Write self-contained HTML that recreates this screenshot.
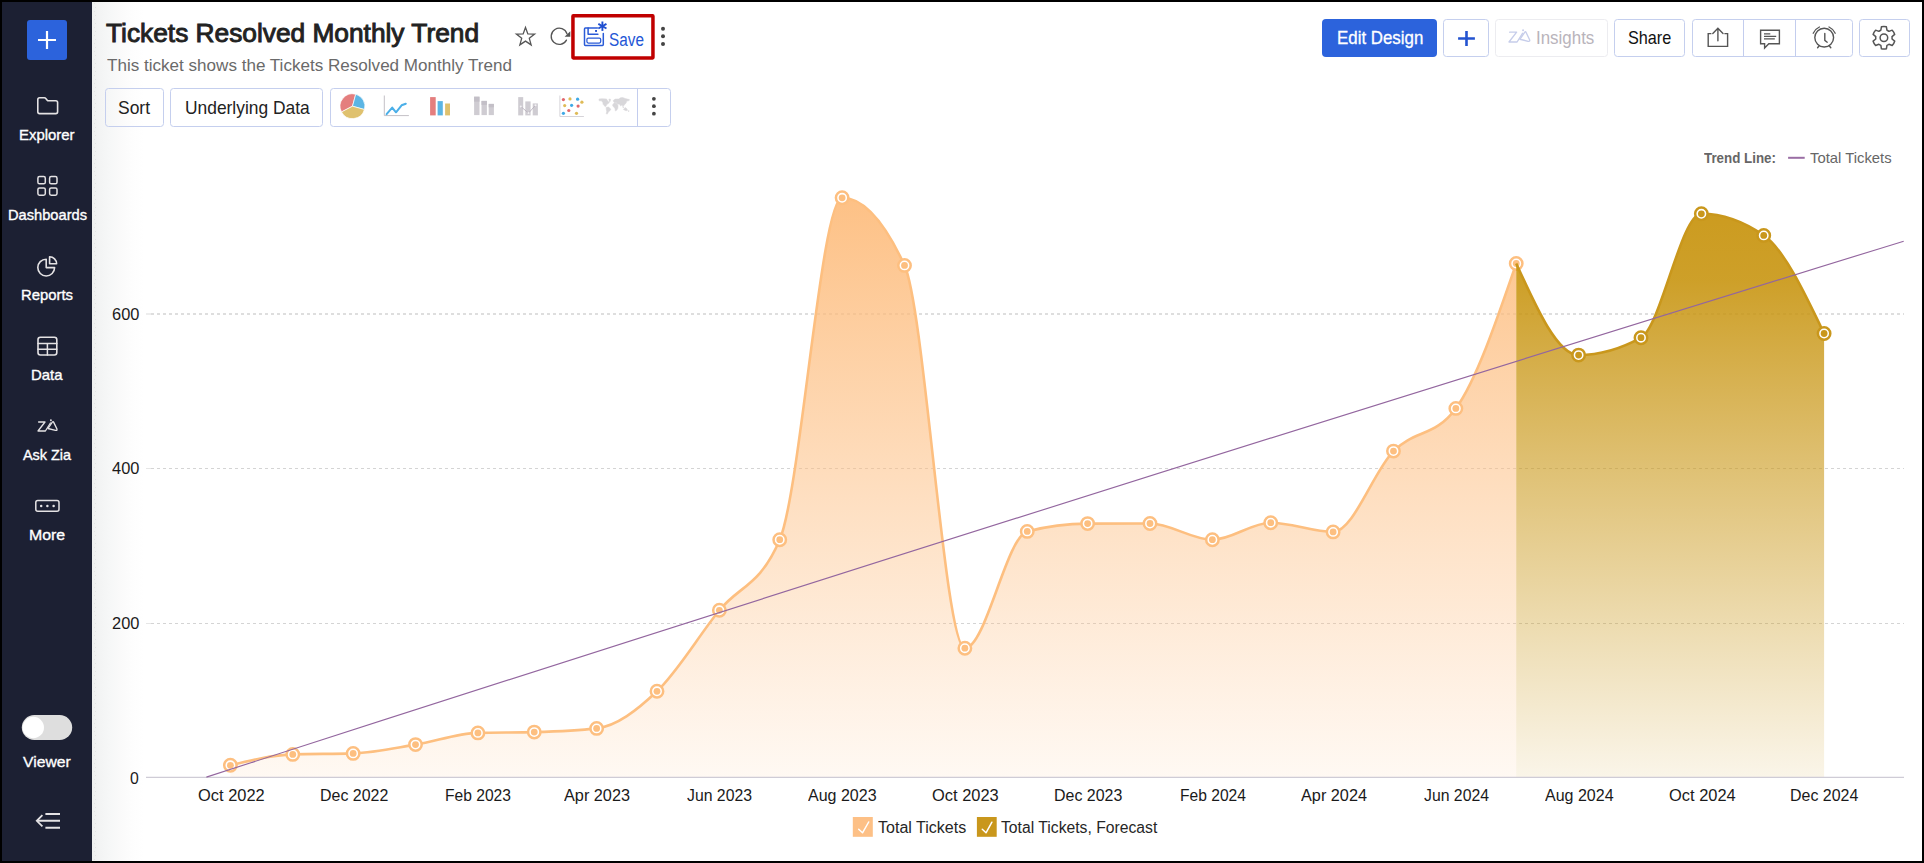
<!DOCTYPE html>
<html lang="en"><head><meta charset="utf-8"><title>Tickets Resolved Monthly Trend</title><style>
*{box-sizing:border-box;margin:0;padding:0}
html,body{width:1924px;height:863px;overflow:hidden;background:#fff}
body{font-family:"Liberation Sans", sans-serif;position:relative}
.abs{position:absolute}
.t{position:absolute;white-space:nowrap;line-height:1;transform-origin:0 50%;display:inline-block}
.frame{position:absolute;left:0;top:0;width:1924px;height:863px;border:2px solid #000;z-index:50;pointer-events:none}
.side{position:absolute;left:2px;top:2px;width:90px;height:859px;background:#1c2033}
.shade{position:absolute;left:92px;top:2px;width:52px;height:859px;background:linear-gradient(90deg,#eef0ef 0,#f3f4f4 16%,#f6f7f7 32%,#fafafa 54%,#fdfdfd 75%,#fff 100%)}
.btn{position:absolute;border:1px solid #c5cfee;border-radius:3.5px}
</style></head>
<body>
<div class="shade"></div>
<div class="side"></div>
<svg class="abs" style="left:92px;top:2px" width="6" height="859"><defs><pattern id="zz" width="6" height="8" patternUnits="userSpaceOnUse"><rect x="2" y="1" width="1" height="1" fill="#e3e4e4"/><rect x="3" y="5" width="1" height="1" fill="#e3e4e4"/></pattern></defs><rect width="6" height="859" fill="url(#zz)"/></svg>
<svg class="abs" style="left:0;top:0" width="1924" height="863" viewBox="0 0 1924 863">
<defs><linearGradient id="ga" gradientUnits="userSpaceOnUse" x1="0" y1="197" x2="0" y2="777"><stop offset="0" stop-color="#fdba78" stop-opacity="0.9"/><stop offset="1" stop-color="#fdc086" stop-opacity="0.10"/></linearGradient><linearGradient id="gf" gradientUnits="userSpaceOnUse" x1="0" y1="213" x2="0" y2="777"><stop offset="0" stop-color="#c8940f" stop-opacity="0.93"/><stop offset="0.12" stop-color="#c89511" stop-opacity="0.9"/><stop offset="1" stop-color="#cc9a1e" stop-opacity="0.10"/></linearGradient></defs>
<line x1="151" x2="1904" y1="314.0" y2="314.0" stroke="#d4d4d4" stroke-width="1.4" stroke-dasharray="3 3"/>
<line x1="146" x2="151" y1="314.0" y2="314.0" stroke="#e6e6e6" stroke-width="1.4"/>
<line x1="151" x2="1904" y1="468.5" y2="468.5" stroke="#d4d4d4" stroke-width="1" stroke-dasharray="3 3"/>
<line x1="146" x2="151" y1="468.5" y2="468.5" stroke="#e6e6e6" stroke-width="1"/>
<line x1="151" x2="1904" y1="623.5" y2="623.5" stroke="#d4d4d4" stroke-width="1" stroke-dasharray="3 3"/>
<line x1="146" x2="151" y1="623.5" y2="623.5" stroke="#e6e6e6" stroke-width="1"/>
<path d="M230.40,765.30C251.19,760.19 271.99,755.09 292.78,754.40C312.90,753.73 333.02,754.07 353.15,753.40C373.94,752.71 394.73,748.02 415.53,744.60C436.32,741.18 457.11,733.49 477.91,732.90C496.69,732.37 515.47,732.63 534.25,732.10C555.04,731.51 575.84,730.87 596.63,728.40C616.75,726.01 636.87,710.44 657.00,691.30C677.79,671.53 698.58,635.94 719.38,610.30C739.50,585.49 759.62,586.77 779.74,539.70C800.54,491.06 821.33,197.80 842.12,197.80C862.92,197.80 883.71,220.33 904.50,265.40C924.63,309.01 944.75,648.20 964.87,648.20C985.66,648.20 1006.46,536.77 1027.25,531.40C1047.37,526.20 1067.49,523.66 1087.62,523.60C1108.41,523.53 1129.20,523.50 1150.00,523.50C1170.79,523.50 1191.58,539.70 1212.38,539.70C1231.83,539.70 1251.28,522.70 1270.73,522.70C1291.53,522.70 1312.32,531.90 1333.11,531.90C1353.23,531.90 1373.36,471.56 1393.48,451.10C1414.27,429.96 1435.07,436.87 1455.86,408.40C1475.98,380.85 1496.10,322.18 1516.23,263.50L1516.23,777.3L230.40,777.3Z" fill="url(#ga)"/>
<path d="M230.40,765.30C251.19,760.19 271.99,755.09 292.78,754.40C312.90,753.73 333.02,754.07 353.15,753.40C373.94,752.71 394.73,748.02 415.53,744.60C436.32,741.18 457.11,733.49 477.91,732.90C496.69,732.37 515.47,732.63 534.25,732.10C555.04,731.51 575.84,730.87 596.63,728.40C616.75,726.01 636.87,710.44 657.00,691.30C677.79,671.53 698.58,635.94 719.38,610.30C739.50,585.49 759.62,586.77 779.74,539.70C800.54,491.06 821.33,197.80 842.12,197.80C862.92,197.80 883.71,220.33 904.50,265.40C924.63,309.01 944.75,648.20 964.87,648.20C985.66,648.20 1006.46,536.77 1027.25,531.40C1047.37,526.20 1067.49,523.66 1087.62,523.60C1108.41,523.53 1129.20,523.50 1150.00,523.50C1170.79,523.50 1191.58,539.70 1212.38,539.70C1231.83,539.70 1251.28,522.70 1270.73,522.70C1291.53,522.70 1312.32,531.90 1333.11,531.90C1353.23,531.90 1373.36,471.56 1393.48,451.10C1414.27,429.96 1435.07,436.87 1455.86,408.40C1475.98,380.85 1496.10,322.18 1516.23,263.50" fill="none" stroke="#fdbf80" stroke-width="2.6" stroke-linejoin="round"/>
<circle cx="230.40" cy="765.30" r="6.2" fill="#fff" stroke="#fdbf80" stroke-width="2.5"/><circle cx="230.40" cy="765.30" r="3.4" fill="#fdbf80"/>
<circle cx="292.78" cy="754.40" r="6.2" fill="#fff" stroke="#fdbf80" stroke-width="2.5"/><circle cx="292.78" cy="754.40" r="3.4" fill="#fdbf80"/>
<circle cx="353.15" cy="753.40" r="6.2" fill="#fff" stroke="#fdbf80" stroke-width="2.5"/><circle cx="353.15" cy="753.40" r="3.4" fill="#fdbf80"/>
<circle cx="415.53" cy="744.60" r="6.2" fill="#fff" stroke="#fdbf80" stroke-width="2.5"/><circle cx="415.53" cy="744.60" r="3.4" fill="#fdbf80"/>
<circle cx="477.91" cy="732.90" r="6.2" fill="#fff" stroke="#fdbf80" stroke-width="2.5"/><circle cx="477.91" cy="732.90" r="3.4" fill="#fdbf80"/>
<circle cx="534.25" cy="732.10" r="6.2" fill="#fff" stroke="#fdbf80" stroke-width="2.5"/><circle cx="534.25" cy="732.10" r="3.4" fill="#fdbf80"/>
<circle cx="596.63" cy="728.40" r="6.2" fill="#fff" stroke="#fdbf80" stroke-width="2.5"/><circle cx="596.63" cy="728.40" r="3.4" fill="#fdbf80"/>
<circle cx="657.00" cy="691.30" r="6.2" fill="#fff" stroke="#fdbf80" stroke-width="2.5"/><circle cx="657.00" cy="691.30" r="3.4" fill="#fdbf80"/>
<circle cx="719.38" cy="610.30" r="6.2" fill="#fff" stroke="#fdbf80" stroke-width="2.5"/><circle cx="719.38" cy="610.30" r="3.4" fill="#fdbf80"/>
<circle cx="779.74" cy="539.70" r="6.2" fill="#fff" stroke="#fdbf80" stroke-width="2.5"/><circle cx="779.74" cy="539.70" r="3.4" fill="#fdbf80"/>
<circle cx="842.12" cy="197.80" r="6.2" fill="#fff" stroke="#fdbf80" stroke-width="2.5"/><circle cx="842.12" cy="197.80" r="3.4" fill="#fdbf80"/>
<circle cx="904.50" cy="265.40" r="6.2" fill="#fff" stroke="#fdbf80" stroke-width="2.5"/><circle cx="904.50" cy="265.40" r="3.4" fill="#fdbf80"/>
<circle cx="964.87" cy="648.20" r="6.2" fill="#fff" stroke="#fdbf80" stroke-width="2.5"/><circle cx="964.87" cy="648.20" r="3.4" fill="#fdbf80"/>
<circle cx="1027.25" cy="531.40" r="6.2" fill="#fff" stroke="#fdbf80" stroke-width="2.5"/><circle cx="1027.25" cy="531.40" r="3.4" fill="#fdbf80"/>
<circle cx="1087.62" cy="523.60" r="6.2" fill="#fff" stroke="#fdbf80" stroke-width="2.5"/><circle cx="1087.62" cy="523.60" r="3.4" fill="#fdbf80"/>
<circle cx="1150.00" cy="523.50" r="6.2" fill="#fff" stroke="#fdbf80" stroke-width="2.5"/><circle cx="1150.00" cy="523.50" r="3.4" fill="#fdbf80"/>
<circle cx="1212.38" cy="539.70" r="6.2" fill="#fff" stroke="#fdbf80" stroke-width="2.5"/><circle cx="1212.38" cy="539.70" r="3.4" fill="#fdbf80"/>
<circle cx="1270.73" cy="522.70" r="6.2" fill="#fff" stroke="#fdbf80" stroke-width="2.5"/><circle cx="1270.73" cy="522.70" r="3.4" fill="#fdbf80"/>
<circle cx="1333.11" cy="531.90" r="6.2" fill="#fff" stroke="#fdbf80" stroke-width="2.5"/><circle cx="1333.11" cy="531.90" r="3.4" fill="#fdbf80"/>
<circle cx="1393.48" cy="451.10" r="6.2" fill="#fff" stroke="#fdbf80" stroke-width="2.5"/><circle cx="1393.48" cy="451.10" r="3.4" fill="#fdbf80"/>
<circle cx="1455.86" cy="408.40" r="6.2" fill="#fff" stroke="#fdbf80" stroke-width="2.5"/><circle cx="1455.86" cy="408.40" r="3.4" fill="#fdbf80"/>
<circle cx="1516.23" cy="263.50" r="6.2" fill="#fff" stroke="#fdbf80" stroke-width="2.5"/><circle cx="1516.23" cy="263.50" r="3.4" fill="#fdbf80"/>
<path d="M1516.23,263.50C1537.02,309.30 1557.81,355.10 1578.61,355.10C1599.40,355.10 1620.19,349.30 1640.99,337.70C1661.11,326.47 1681.23,213.80 1701.35,213.80C1722.15,213.80 1742.94,221.00 1763.73,235.40C1783.86,249.34 1803.98,291.42 1824.10,333.50L1824.10,777.3L1516.23,777.3Z" fill="url(#gf)"/>
<path d="M1516.23,263.50C1537.02,309.30 1557.81,355.10 1578.61,355.10C1599.40,355.10 1620.19,349.30 1640.99,337.70C1661.11,326.47 1681.23,213.80 1701.35,213.80C1722.15,213.80 1742.94,221.00 1763.73,235.40C1783.86,249.34 1803.98,291.42 1824.10,333.50" fill="none" stroke="#c9971c" stroke-width="2.6" stroke-linejoin="round"/>
<line x1="146" x2="1904" y1="777.3" y2="777.3" stroke="#cfccd6" stroke-width="1.3"/>
<circle cx="1578.61" cy="355.10" r="6.2" fill="#fff" stroke="#c9971c" stroke-width="2.5"/><circle cx="1578.61" cy="355.10" r="3.4" fill="#c9971c"/>
<circle cx="1640.99" cy="337.70" r="6.2" fill="#fff" stroke="#c9971c" stroke-width="2.5"/><circle cx="1640.99" cy="337.70" r="3.4" fill="#c9971c"/>
<circle cx="1701.35" cy="213.80" r="6.2" fill="#fff" stroke="#c9971c" stroke-width="2.5"/><circle cx="1701.35" cy="213.80" r="3.4" fill="#c9971c"/>
<circle cx="1763.73" cy="235.40" r="6.2" fill="#fff" stroke="#c9971c" stroke-width="2.5"/><circle cx="1763.73" cy="235.40" r="3.4" fill="#c9971c"/>
<circle cx="1824.10" cy="333.50" r="6.2" fill="#fff" stroke="#c9971c" stroke-width="2.5"/><circle cx="1824.10" cy="333.50" r="3.4" fill="#c9971c"/>
<path d="M206.4 777.1Q1055 502.9 1903.7 241.2" fill="none" stroke="#93669f" stroke-width="1.15"/>
</svg>
<svg class="abs" style="left:0;top:0" width="96" height="863" viewBox="0 0 96 863" fill="none" stroke-linecap="round" stroke-linejoin="round">
<rect x="27" y="20" width="40" height="40" rx="3" fill="#2c63dc"/>
<path d="M38 40H56M47 31V49" stroke="#fff" stroke-width="2.2" stroke-linecap="butt"/>
<path d="M37.8 99.6Q37.8 97.8 39.6 97.8H44.2Q45.3 97.8 46 98.7L47.2 100.2Q47.7 100.8 48.6 100.8H55.8Q57.6 100.8 57.6 102.6V111.8Q57.6 113.6 55.8 113.6H39.6Q37.8 113.6 37.8 111.8Z" stroke="#e4e2e4" stroke-width="1.6"/>
<rect x="37.9" y="176.6" width="7.4" height="7.2" rx="1.6" stroke="#e4e2e4" stroke-width="1.5"/>
<rect x="49.6" y="176.6" width="7.4" height="7.2" rx="1.6" stroke="#e4e2e4" stroke-width="1.5"/>
<rect x="37.9" y="188.0" width="7.4" height="7.2" rx="1.6" stroke="#e4e2e4" stroke-width="1.5"/>
<rect x="49.6" y="188.0" width="7.4" height="7.2" rx="1.6" stroke="#e4e2e4" stroke-width="1.5"/>
<path d="M46.2 259.2A8.4 8.4 0 1 0 54.6 267.6H46.2Z" stroke="#e4e2e4" stroke-width="1.6"/>
<path d="M49.6 256.8A7 7 0 0 1 56.6 263.8H49.6Z" stroke="#e4e2e4" stroke-width="1.6"/>
<rect x="38" y="337.2" width="18.8" height="17.8" rx="2.4" stroke="#e4e2e4" stroke-width="1.6"/>
<path d="M38 343.4H56.8M38 349.3H56.8M47.4 343.4V355" stroke="#e4e2e4" stroke-width="1.5"/>
<path d="M38.6 422H45L38 431H45.4L50.4 423" stroke="#e4e2e4" stroke-width="1.3"/>
<circle cx="50.9" cy="420.3" r="0.95" fill="#e4e2e4"/>
<path d="M48 428.5L52.5 421.9Q53.1 421.2 53.6 422.1L56.9 428.9Q57.5 430.8 55.5 430.4L48 428.5" stroke="#e4e2e4" stroke-width="1.3"/>
<rect x="35.8" y="500.6" width="23.2" height="10.6" rx="2" stroke="#e4e2e4" stroke-width="1.5"/>
<circle cx="41.2" cy="505.9" r="1.25" fill="#e4e2e4"/>
<circle cx="47.4" cy="505.9" r="1.25" fill="#e4e2e4"/>
<circle cx="53.6" cy="505.9" r="1.25" fill="#e4e2e4"/>
<rect x="21.8" y="715" width="50.4" height="25" rx="12.5" fill="#dedede"/>
<circle cx="33.3" cy="727.5" r="10.7" fill="#fff"/>
<path d="M45.4 814H60M37 820.8H60M45.4 827.8H60" stroke="#e4e2e4" stroke-width="2" stroke-linecap="butt"/>
<path d="M42.4 815.2L36.8 820.8L42.4 826.4" stroke="#e4e2e4" stroke-width="1.8" stroke-linecap="butt" stroke-linejoin="miter"/>
</svg>
<div class="abs" style="left:1322px;top:19px;width:115px;height:38px;background:#2c63dc;border-radius:4px"></div>
<div class="btn" style="left:1443px;top:19px;width:46px;height:38px"></div>
<div class="btn" style="left:1495px;top:19px;width:113px;height:38px;border-color:#ececf0"></div>
<div class="btn" style="left:1614px;top:19px;width:71px;height:38px"></div>
<div class="btn" style="left:1692px;top:19px;width:161px;height:38px"></div>
<div class="abs" style="left:1743px;top:20px;width:1px;height:36px;background:#c3cdee"></div>
<div class="abs" style="left:1795px;top:20px;width:1px;height:36px;background:#c3cdee"></div>
<div class="btn" style="left:1859px;top:19px;width:51px;height:38px"></div>
<svg class="abs" style="left:0;top:0" width="1924" height="80" viewBox="0 0 1924 80" fill="none" stroke-linecap="round" stroke-linejoin="round">
<rect x="572.95" y="15.85" width="80" height="42.1" rx="0.4" stroke="#c00000" stroke-width="3.5" stroke-linejoin="miter"/>
<path d="M525.50 27.50L527.85 33.86L534.63 34.13L529.30 38.34L531.14 44.87L525.50 41.10L519.86 44.87L521.70 38.34L516.37 34.13L523.15 33.86Z" stroke="#555" stroke-width="1.3" stroke-linejoin="miter"/>
<path d="M566.45 40.10A8.1 8.1 0 1 1 567.00 33.80" stroke="#555" stroke-width="1.3"/>
<path d="M570.3 31.2V36.7H564.6Z" fill="#555"/>
<path d="M597.4 28H585.4Q584.5 28 584.5 28.9V44.5Q584.5 45.4 585.4 45.4H602.4Q603.3 45.4 603.3 44.5V33.4" stroke="#2a5bd7" stroke-width="1.5"/>
<path d="M588.1 28V34.3H597.9" stroke="#2a5bd7" stroke-width="1.5"/>
<rect x="595.1" y="30" width="1.9" height="1.9" fill="#1f4fd0"/>
<rect x="586.9" y="38.1" width="13.8" height="4.9" rx="1.4" stroke="#2a5bd7" stroke-width="1.25"/>
<path d="M602.40 21.50L602.40 30.90" stroke="#1f4fd0" stroke-width="1.9" stroke-linecap="butt"/>
<path d="M598.33 23.85L606.47 28.55" stroke="#1f4fd0" stroke-width="1.9" stroke-linecap="butt"/>
<path d="M606.47 23.85L598.33 28.55" stroke="#1f4fd0" stroke-width="1.9" stroke-linecap="butt"/>
<circle cx="663" cy="28.7" r="2" fill="#444"/>
<circle cx="663" cy="36.3" r="2" fill="#444"/>
<circle cx="663" cy="43.9" r="2" fill="#444"/>
<path d="M1458.1 38.5H1474.9M1466.5 31V45.9" stroke="#2353d0" stroke-width="2.6" stroke-linecap="butt"/>
<g transform="translate(1509 30) scale(1.09)" stroke="#c6cdea" stroke-width="1.25"><path d="M0.6 2H7L0 11H7.4L12.4 3"/><circle cx="12.9" cy="0.3" r="0.9" fill="#c6cdea" stroke="none"/><path d="M10 8.5L14.5 1.9Q15.1 1.2 15.6 2.1L18.9 8.9Q19.5 10.8 17.5 10.4L10 8.5"/></g>
<path d="M1711.4 33.6H1708.2V46.4H1727.6V33.6H1724.4" stroke="#555" stroke-width="1.4" stroke-linejoin="miter" stroke-linecap="butt"/>
<path d="M1717.9 40.8V28.6M1712.8 33.5L1717.9 28.3L1723 33.5" stroke="#555" stroke-width="1.4" stroke-linejoin="miter"/>
<path d="M1760.6 30.2H1779.4V43.8H1768.8L1764.6 48V43.8H1760.6Z" stroke="#555" stroke-width="1.4" stroke-linejoin="miter"/>
<path d="M1764 33.8H1770.3M1764 36.4H1776.2M1764 38.8H1774.8" stroke="#555" stroke-width="1.2" stroke-linecap="butt"/>
<circle cx="1824.2" cy="37.6" r="9.4" stroke="#555" stroke-width="1.4"/>
<path d="M1824.8 33.4V40.4L1827.2 42.2" stroke="#555" stroke-width="1.4"/>
<path d="M1813.2 33.2A12.6 12.6 0 0 1 1819.4 27M1829 27A12.6 12.6 0 0 1 1835.2 33.2" stroke="#555" stroke-width="1.3"/>
<path d="M1819.2 45.8L1817.6 47.8M1829.2 45.8L1830.8 47.8" stroke="#555" stroke-width="1.4"/>
<path d="M1881.43 26.77A11.30 11.30 0 0 1 1886.37 26.77L1886.95 30.19A8.20 8.20 0 0 1 1888.96 31.35L1892.21 30.15A11.30 11.30 0 0 1 1894.69 34.43L1892.02 36.64A8.20 8.20 0 0 1 1892.02 38.96L1894.69 41.17A11.30 11.30 0 0 1 1892.21 45.45L1888.96 44.25A8.20 8.20 0 0 1 1886.95 45.41L1886.37 48.83A11.30 11.30 0 0 1 1881.43 48.83L1880.85 45.41A8.20 8.20 0 0 1 1878.84 44.25L1875.59 45.45A11.30 11.30 0 0 1 1873.11 41.17L1875.78 38.96A8.20 8.20 0 0 1 1875.78 36.64L1873.11 34.43A11.30 11.30 0 0 1 1875.59 30.15L1878.84 31.35A8.20 8.20 0 0 1 1880.85 30.19L1881.43 26.77Z" stroke="#555" stroke-width="1.5" stroke-linejoin="round"/>
<circle cx="1883.9" cy="37.8" r="3.8" stroke="#555" stroke-width="1.5"/>
</svg>
<div class="btn" style="left:105px;top:88px;width:59px;height:39px"></div>
<div class="btn" style="left:170px;top:88px;width:153px;height:39px"></div>
<div class="btn" style="left:330px;top:88px;width:341px;height:39px"></div>
<div class="abs" style="left:637px;top:89px;width:1px;height:37px;background:#c3cdee"></div>
<svg class="abs" style="left:0;top:80px" width="700" height="60" viewBox="0 80 700 60" fill="none">
<path d="M352.5 106.2L341.51 111.94A12.4 12.4 0 0 1 355.73 94.23Z" fill="#e47e7e" stroke="#fff" stroke-width="0.7" stroke-linejoin="round"/>
<path d="M352.5 106.2L355.73 94.23A12.4 12.4 0 0 1 364.44 109.53Z" fill="#5bb5e4" stroke="#fff" stroke-width="0.7" stroke-linejoin="round"/>
<path d="M352.5 106.2L364.44 109.53A12.4 12.4 0 0 1 341.51 111.94Z" fill="#dfc16e" stroke="#fff" stroke-width="0.7" stroke-linejoin="round"/>
<path d="M384.3 95.5V115.6H408.9" stroke="#c4c0c6" stroke-width="1"/>
<path d="M386.6 114.2L392.2 107.6L396 112.3L401.6 105.3L405.8 103.7" stroke="#4bafe8" stroke-width="2" stroke-linejoin="round" stroke-linecap="round"/>
<rect x="430.1" y="97.1" width="5.6" height="18.3" fill="#e47e7e"/>
<rect x="437.6" y="101.1" width="5.2" height="14.3" fill="#5bb5e4"/>
<rect x="445.1" y="103.5" width="4.9" height="11.9" fill="#dfc16e"/>
<rect x="474.1" y="96.7" width="5.4" height="18.4" fill="#cfccd2"/><rect x="474.1" y="96.7" width="5.4" height="5" fill="#c3bfc7"/>
<rect x="481.5" y="100.9" width="5.4" height="14.2" fill="#cfccd2"/><rect x="481.5" y="100.9" width="5.4" height="4" fill="#c3bfc7"/>
<rect x="488.7" y="103.9" width="5.2" height="11.2" fill="#cfccd2"/><rect x="488.7" y="103.9" width="5.2" height="3.4" fill="#c3bfc7"/>
<rect x="518.2" y="97.1" width="5" height="18.3" fill="#cfccd2"/>
<rect x="525.3" y="101.4" width="5.3" height="14" fill="#cfccd2"/>
<rect x="532.7" y="103.4" width="5.2" height="12" fill="#cfccd2"/>
<path d="M520.8 106.5L528.5 113.1L535.5 105.3" stroke="#b9b2bd" stroke-width="0.9"/>
<circle cx="520.8" cy="106.5" r="1" fill="#f4f2f5"/>
<circle cx="528.5" cy="113.1" r="1" fill="#f4f2f5"/>
<circle cx="535.5" cy="105.3" r="1" fill="#f4f2f5"/>
<path d="M559.9 95.5V116.5H583.9" stroke="#d6d4d9" stroke-width="1"/>
<circle cx="563.4" cy="99.6" r="1.6" fill="#e2666a"/>
<circle cx="570" cy="98.9" r="1.6" fill="#dfbb57"/>
<circle cx="577.6" cy="99.2" r="1.6" fill="#3fa9e6"/>
<circle cx="581.9" cy="102.2" r="1.6" fill="#dfbb57"/>
<circle cx="564.7" cy="105.6" r="1.6" fill="#dfbb57"/>
<circle cx="571.6" cy="105.3" r="1.6" fill="#3fa9e6"/>
<circle cx="578.1" cy="106.1" r="1.6" fill="#e2666a"/>
<circle cx="568.8" cy="110.5" r="1.6" fill="#e2666a"/>
<circle cx="563.4" cy="113.3" r="1.6" fill="#3fa9e6"/>
<circle cx="576.5" cy="113.3" r="1.6" fill="#dfbb57"/>
<g fill="#d2d1d4" stroke="#d2d1d4" stroke-width="0.5" stroke-linejoin="round" opacity="0.85"><path d="M599.0 99.0L602.1 98.7L606.7 99.0L607.0 100.1L608.3 101.4L609.3 102.7L607.0 104.3L606.0 106.0L605.4 106.8L604.1 105.6L603.1 104.3L602.8 102.4L601.5 100.8L599.2 100.8Z"/><path d="M608.9 99.0L610.6 99.3L610.2 101.4L609.3 101.7Z"/><path d="M606.3 107.3L608.6 107.1L610.9 109.2L609.9 110.8L608.3 112.1L607.3 114.1L606.2 113.8L606.7 111.5L606.2 108.9Z"/><path d="M613.2 100.6L615.1 99.1L618.7 99.0L620.6 97.7L622.6 97.5L625.2 98.5L629.4 99.6L629.1 100.6L626.8 101.1L626.1 103.0L624.5 104.7L623.2 106.3L621.9 105.0L620.6 106.0L619.6 104.3L617.4 104.0L616.7 102.7L614.1 102.4L613.5 101.4Z"/><path d="M612.5 105.0L614.1 103.0L616.7 103.2L618.0 105.6L617.9 108.2L616.7 110.2L615.4 111.0L614.9 108.2L613.2 106.6Z"/><path d="M623.4 109.5L625.2 107.6L627.1 108.9L627.3 110.5L625.8 110.7Z"/><path d="M628.1 110.7L629.1 110.8L628.6 111.8Z"/><path d="M622.6 106.6L623.9 107.1L623.7 107.7L622.7 107.3Z"/></g>
<circle cx="653.9" cy="98.8" r="1.9" fill="#444"/>
<circle cx="653.9" cy="106.2" r="1.9" fill="#444"/>
<circle cx="653.9" cy="113.7" r="1.9" fill="#444"/>
</svg>
<svg class="abs" style="left:0;top:140px" width="1924" height="723" viewBox="0 140 1924 723" fill="none">
<line x1="1788.1" x2="1804.7" y1="157.8" y2="157.8" stroke="#9a6ea4" stroke-width="2"/>
<rect x="852.8" y="817" width="20" height="19.8" fill="#fdc086"/>
<path d="M858.7 829.3L862.5 832.8L868.7 822" stroke="#fff" stroke-width="1.5" stroke-linejoin="round" stroke-linecap="round"/>
<rect x="976.9" y="817" width="19.8" height="19.8" fill="#c9971c"/>
<path d="M982.3 829.3L986 832.8L991.9 822.2" stroke="#fff" stroke-width="1.5" stroke-linejoin="round" stroke-linecap="round"/>
</svg>
<span class="t" id="sb1" style="left:19.10px;top:128.000px;font-size:14.8px;color:#fff;font-weight:400;transform:scaleX(1.0089);-webkit-text-stroke:0.35px #fff;">Explorer</span>
<span class="t" id="sb2" style="left:7.70px;top:208.000px;font-size:14.8px;color:#fff;font-weight:400;transform:scaleX(0.9900);-webkit-text-stroke:0.35px #fff;">Dashboards</span>
<span class="t" id="sb3" style="left:21.20px;top:288.000px;font-size:14.8px;color:#fff;font-weight:400;transform:scaleX(1.0036);-webkit-text-stroke:0.35px #fff;">Reports</span>
<span class="t" id="sb4" style="left:31.10px;top:368.000px;font-size:14.8px;color:#fff;font-weight:400;transform:scaleX(1.0075);-webkit-text-stroke:0.35px #fff;">Data</span>
<span class="t" id="sb5" style="left:22.80px;top:448.000px;font-size:14.8px;color:#fff;font-weight:400;transform:scaleX(0.9748);-webkit-text-stroke:0.35px #fff;">Ask Zia</span>
<span class="t" id="sb6" style="left:29.20px;top:528.000px;font-size:14.8px;color:#fff;font-weight:400;transform:scaleX(1.0736);-webkit-text-stroke:0.35px #fff;">More</span>
<span class="t" id="sb7" style="left:23.10px;top:754.000px;font-size:15px;color:#fff;font-weight:400;transform:scaleX(1.0484);-webkit-text-stroke:0.3px #fff;">Viewer</span>
<span class="t" id="ttl" style="left:106.30px;top:21.000px;font-size:25px;color:#222;font-weight:400;transform:scaleX(1.0514);-webkit-text-stroke:0.9px #222;">Tickets Resolved Monthly Trend</span>
<span class="t" id="sub" style="left:106.60px;top:57.000px;font-size:17px;color:#6a6a6a;font-weight:400;transform:scaleX(1.0038);">This ticket shows the Tickets Resolved Monthly Trend</span>
<span class="t" id="save" style="left:609.10px;top:31.000px;font-size:18px;color:#2456d6;font-weight:400;transform:scaleX(0.8506);">Save</span>
<span class="t" id="edit" style="left:1336.80px;top:30.000px;font-size:17.7px;color:#fff;font-weight:400;transform:scaleX(0.9541);-webkit-text-stroke:0.3px #fff;">Edit Design</span>
<span class="t" id="ins" style="left:1535.60px;top:30.000px;font-size:17.7px;color:#b9b4bb;font-weight:400;transform:scaleX(0.9562);">Insights</span>
<span class="t" id="shr" style="left:1628.30px;top:30.000px;font-size:17.7px;color:#111;font-weight:400;transform:scaleX(0.9173);">Share</span>
<span class="t" id="sort" style="left:118.30px;top:100.000px;font-size:17.7px;color:#222;font-weight:400;transform:scaleX(0.9860);">Sort</span>
<span class="t" id="und" style="left:184.70px;top:100.000px;font-size:17.7px;color:#222;font-weight:400;transform:scaleX(0.9832);">Underlying Data</span>
<span class="t" id="y600" style="left:111.80px;top:307.000px;font-size:15.6px;color:#1a1a1a;font-weight:400;transform:scaleX(1.0526);">600</span>
<span class="t" id="y400" style="left:111.80px;top:461.000px;font-size:15.6px;color:#1a1a1a;font-weight:400;transform:scaleX(1.0526);">400</span>
<span class="t" id="y200" style="left:111.80px;top:616.000px;font-size:15.6px;color:#1a1a1a;font-weight:400;transform:scaleX(1.0526);">200</span>
<span class="t" id="y0" style="left:130.40px;top:771.000px;font-size:15.6px;color:#1a1a1a;font-weight:400;transform:scaleX(1.0129);">0</span>
<span class="t" id="x0" style="left:197.55px;top:788.000px;font-size:15.8px;color:#1a1a1a;font-weight:400;transform:scaleX(1.0404);">Oct 2022</span>
<span class="t" id="x1" style="left:319.50px;top:788.000px;font-size:15.8px;color:#1a1a1a;font-weight:400;transform:scaleX(1.0100);">Dec 2022</span>
<span class="t" id="x2" style="left:445.41px;top:788.000px;font-size:15.8px;color:#1a1a1a;font-weight:400;transform:scaleX(0.9885);">Feb 2023</span>
<span class="t" id="x3" style="left:564.13px;top:788.000px;font-size:15.8px;color:#1a1a1a;font-weight:400;transform:scaleX(1.0292);">Apr 2023</span>
<span class="t" id="x4" style="left:687.38px;top:788.000px;font-size:15.8px;color:#1a1a1a;font-weight:400;transform:scaleX(0.9998);">Jun 2023</span>
<span class="t" id="x5" style="left:808.32px;top:788.000px;font-size:15.8px;color:#1a1a1a;font-weight:400;transform:scaleX(1.0142);">Aug 2023</span>
<span class="t" id="x6" style="left:932.02px;top:788.000px;font-size:15.8px;color:#1a1a1a;font-weight:400;transform:scaleX(1.0404);">Oct 2023</span>
<span class="t" id="x7" style="left:1053.97px;top:788.000px;font-size:15.8px;color:#1a1a1a;font-weight:400;transform:scaleX(1.0100);">Dec 2023</span>
<span class="t" id="x8" style="left:1179.88px;top:788.000px;font-size:15.8px;color:#1a1a1a;font-weight:400;transform:scaleX(0.9885);">Feb 2024</span>
<span class="t" id="x9" style="left:1300.61px;top:788.000px;font-size:15.8px;color:#1a1a1a;font-weight:400;transform:scaleX(1.0292);">Apr 2024</span>
<span class="t" id="x10" style="left:1423.86px;top:788.000px;font-size:15.8px;color:#1a1a1a;font-weight:400;transform:scaleX(0.9998);">Jun 2024</span>
<span class="t" id="x11" style="left:1544.81px;top:788.000px;font-size:15.8px;color:#1a1a1a;font-weight:400;transform:scaleX(1.0142);">Aug 2024</span>
<span class="t" id="x12" style="left:1668.50px;top:788.000px;font-size:15.8px;color:#1a1a1a;font-weight:400;transform:scaleX(1.0404);">Oct 2024</span>
<span class="t" id="x13" style="left:1790.45px;top:788.000px;font-size:15.8px;color:#1a1a1a;font-weight:400;transform:scaleX(1.0100);">Dec 2024</span>
<span class="t" id="tl1" style="left:1704.00px;top:150.000px;font-size:15px;color:#666;font-weight:700;transform:scaleX(0.8906);">Trend Line:</span>
<span class="t" id="tl2" style="left:1810.30px;top:150.000px;font-size:15px;color:#666;font-weight:400;transform:scaleX(0.9887);">Total Tickets</span>
<span class="t" id="lg1" style="left:877.80px;top:820.000px;font-size:15.8px;color:#262626;font-weight:400;transform:scaleX(1.0147);">Total Tickets</span>
<span class="t" id="lg2" style="left:1001.20px;top:820.000px;font-size:15.8px;color:#262626;font-weight:400;transform:scaleX(0.9946);">Total Tickets, Forecast</span>
<div class="frame"></div>
</body></html>
